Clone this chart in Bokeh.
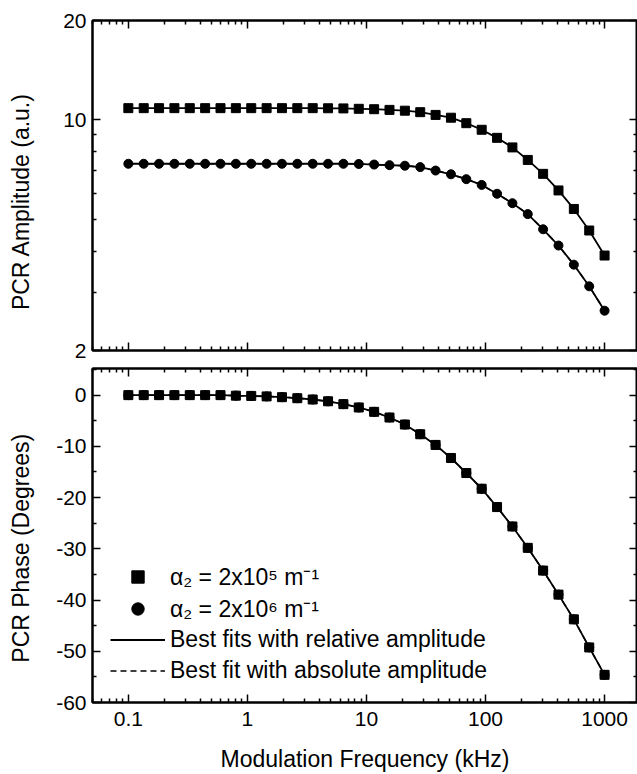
from bokeh.plotting import figure
from bokeh.models import (FixedTicker, LogAxis, LinearAxis, Legend, LegendItem,
                          CustomJSTickFormatter)
from bokeh.layouts import column
from bokeh.embed import file_html
from bokeh.resources import INLINE

# ---------------- data ----------------
freq_khz = [0.1, 0.1346, 0.1811, 0.2438, 0.3281, 0.4416, 0.5943, 0.8, 1.077, 1.45,
            1.951, 2.626, 3.535, 4.758, 6.403, 8.619, 11.6, 15.61, 21.02, 28.29,
            38.07, 51.25, 68.97, 92.84, 125.0, 168.2, 226.4, 304.7, 410.1, 552.0,
            743.0, 1000.0]

amp_a2e5 = [10.85, 10.85, 10.85, 10.85, 10.85, 10.85, 10.85, 10.85, 10.85, 10.85,
            10.85, 10.85, 10.85, 10.84, 10.83, 10.80, 10.77, 10.72, 10.66, 10.55,
            10.35, 10.15, 9.77, 9.33, 8.82, 8.25, 7.56, 6.86, 6.11, 5.37,
            4.62, 3.88]

amp_a2e6 = [7.36, 7.36, 7.36, 7.36, 7.36, 7.36, 7.36, 7.36, 7.36, 7.36,
            7.36, 7.36, 7.36, 7.36, 7.36, 7.35, 7.32, 7.29, 7.26, 7.19,
            7.02, 6.84, 6.61, 6.35, 5.97, 5.59, 5.18, 4.66, 4.16, 3.64,
            3.13, 2.64]

phase_a2e5 = [0.0, 0.0, 0.0, 0.0, 0.0, 0.0, 0.0, -0.1, -0.15, -0.25,
              -0.4, -0.6, -0.85, -1.2, -1.76, -2.41, -3.26, -4.37, -5.74, -7.63,
              -9.72, -12.27, -15.2, -18.27, -21.85, -25.64, -29.81, -34.25, -38.94, -43.77,
              -49.25, -54.6]

phase_a2e6 = [0.0, 0.0, 0.0, 0.0, 0.0, 0.0, 0.0, -0.1, -0.15, -0.25,
              -0.4, -0.6, -0.85, -1.2, -1.76, -2.41, -3.26, -4.37, -5.74, -7.63,
              -9.72, -12.27, -15.2, -18.27, -21.85, -25.64, -29.81, -34.25, -38.94, -43.77,
              -49.25, -54.6]

x_ticks = [0.1, 1, 10, 100, 1000]
x_minor = [0.05, 0.06, 0.07, 0.08, 0.09,
           0.2, 0.3, 0.4, 0.5, 0.6, 0.7, 0.8, 0.9,
           2, 3, 4, 5, 6, 7, 8, 9,
           20, 30, 40, 50, 60, 70, 80, 90,
           200, 300, 400, 500, 600, 700, 800, 900, 2000]
amp_ticks = [2, 10, 20]
amp_minor = [3, 4, 5, 6, 7, 8, 9]
phase_ticks = [0, -10, -20, -30, -40, -50, -60]
phase_minor = [5, -5, -15, -25, -35, -45, -55]

legend_labels = ["\u03b1\u2082 = 2x10\u2075 m\u207b\u00b9",
                 "\u03b1\u2082 = 2x10\u2076 m\u207b\u00b9",
                 "Best fits with relative amplitude",
                 "Best fit with absolute amplitude"]

FONT = "Liberation Sans"
NBSP = "\u00a0"


def style_axis(ax, ticks, minor, labels=True, label=None, label_standoff=10,
               tick_standoff=6):
    ax.ticker = FixedTicker(ticks=ticks, minor_ticks=minor)
    ax.major_tick_in = 8
    ax.major_tick_out = 0
    ax.minor_tick_in = 4
    ax.minor_tick_out = 0
    ax.axis_line_color = "black"
    ax.axis_line_width = 2
    ax.major_tick_line_color = "black"
    ax.major_tick_line_width = 1.5
    ax.minor_tick_line_color = "black"
    ax.minor_tick_line_width = 1.5
    if labels:
        ax.formatter = CustomJSTickFormatter(code="return tick.toString()")
        ax.major_label_text_font = FONT
        ax.major_label_text_font_size = "21px"
        ax.major_label_text_color = "black"
        ax.major_label_standoff = tick_standoff
    else:
        ax.formatter = CustomJSTickFormatter(code="return ''")
        ax.major_label_text_font_size = "1px"
        ax.major_label_standoff = 0
    if label:
        ax.axis_label = label
        ax.axis_label_text_font = FONT
        ax.axis_label_text_font_size = "23px"
        ax.axis_label_text_font_style = "normal"
        ax.axis_label_text_color = "black"
        ax.axis_label_standoff = label_standoff


def base_fig(height, y_type, y_range, top, bottom):
    p = figure(width=637, height=height, x_axis_type="log", y_axis_type=y_type,
               x_range=(0.05, 1890), y_range=y_range, output_backend="svg",
               toolbar_location=None, title=None,
               min_border_left=92, min_border_right=0,
               min_border_top=top, min_border_bottom=bottom)
    p.grid.visible = False
    p.outline_line_color = "black"
    p.outline_line_width = 2
    p.background_fill_color = "white"
    p.border_fill_color = "white"
    return p


# ---------------- top panel: amplitude ----------------
p1 = base_fig(366, "log", (2, 20), 20, 16)
p1.line(freq_khz, amp_a2e6, line_color="black", line_width=1.5, line_dash="6 4")
p1.line(freq_khz, amp_a2e5, line_color="black", line_width=1.8)
p1.line(freq_khz, amp_a2e6, line_color="black", line_width=1.8)
p1.scatter(freq_khz, amp_a2e5, marker="square", size=9, color="black")
p1.scatter(freq_khz, amp_a2e6, marker="circle", size=9, color="black")

style_axis(p1.xaxis[0], x_ticks, x_minor, labels=False)
style_axis(p1.yaxis[0], amp_ticks, amp_minor,
           label="PCR Amplitude (a.u.)" + NBSP * 5, label_standoff=26)
ax = LogAxis()
style_axis(ax, x_ticks, x_minor, labels=False)
p1.add_layout(ax, "above")
ax = LogAxis()
style_axis(ax, amp_ticks, amp_minor, labels=False)
p1.add_layout(ax, "right")

# ---------------- bottom panel: phase ----------------
p2 = base_fig(408, "linear", (-60, 5.2), 2, 72)
r_dash = p2.line(freq_khz, phase_a2e6, line_color="black", line_width=1.5,
                 line_dash="6 4")
r_line = p2.line(freq_khz, phase_a2e5, line_color="black", line_width=1.8)
r_circ = p2.scatter(freq_khz, phase_a2e6, marker="circle", size=9, color="black")
r_sq = p2.scatter(freq_khz, phase_a2e5, marker="square", size=9, color="black")

style_axis(p2.xaxis[0], x_ticks, x_minor, label="Modulation Frequency (kHz)",
           label_standoff=17, tick_standoff=9)
style_axis(p2.yaxis[0], phase_ticks, phase_minor,
           label="PCR Phase (Degrees)" + NBSP * 4, label_standoff=19)
ax = LogAxis()
style_axis(ax, x_ticks, x_minor, labels=False)
p2.add_layout(ax, "above")
ax = LinearAxis()
style_axis(ax, phase_ticks, phase_minor, labels=False)
p2.add_layout(ax, "right")

legend = Legend(items=[LegendItem(label=legend_labels[0], renderers=[r_sq]),
                       LegendItem(label=legend_labels[1], renderers=[r_circ]),
                       LegendItem(label=legend_labels[2], renderers=[r_line]),
                       LegendItem(label=legend_labels[3], renderers=[r_dash])],
                location=(18, 16), orientation="vertical",
                label_text_font=FONT, label_text_font_size="23px",
                label_text_color="black",
                glyph_width=55, glyph_height=31, label_height=31,
                label_standoff=5, spacing=0, padding=0, margin=0,
                border_line_alpha=0, background_fill_alpha=0)
p2.add_layout(legend, "center")

layout = column(p1, p2, spacing=0)
open("out.html", "w").write(file_html(layout, INLINE))
